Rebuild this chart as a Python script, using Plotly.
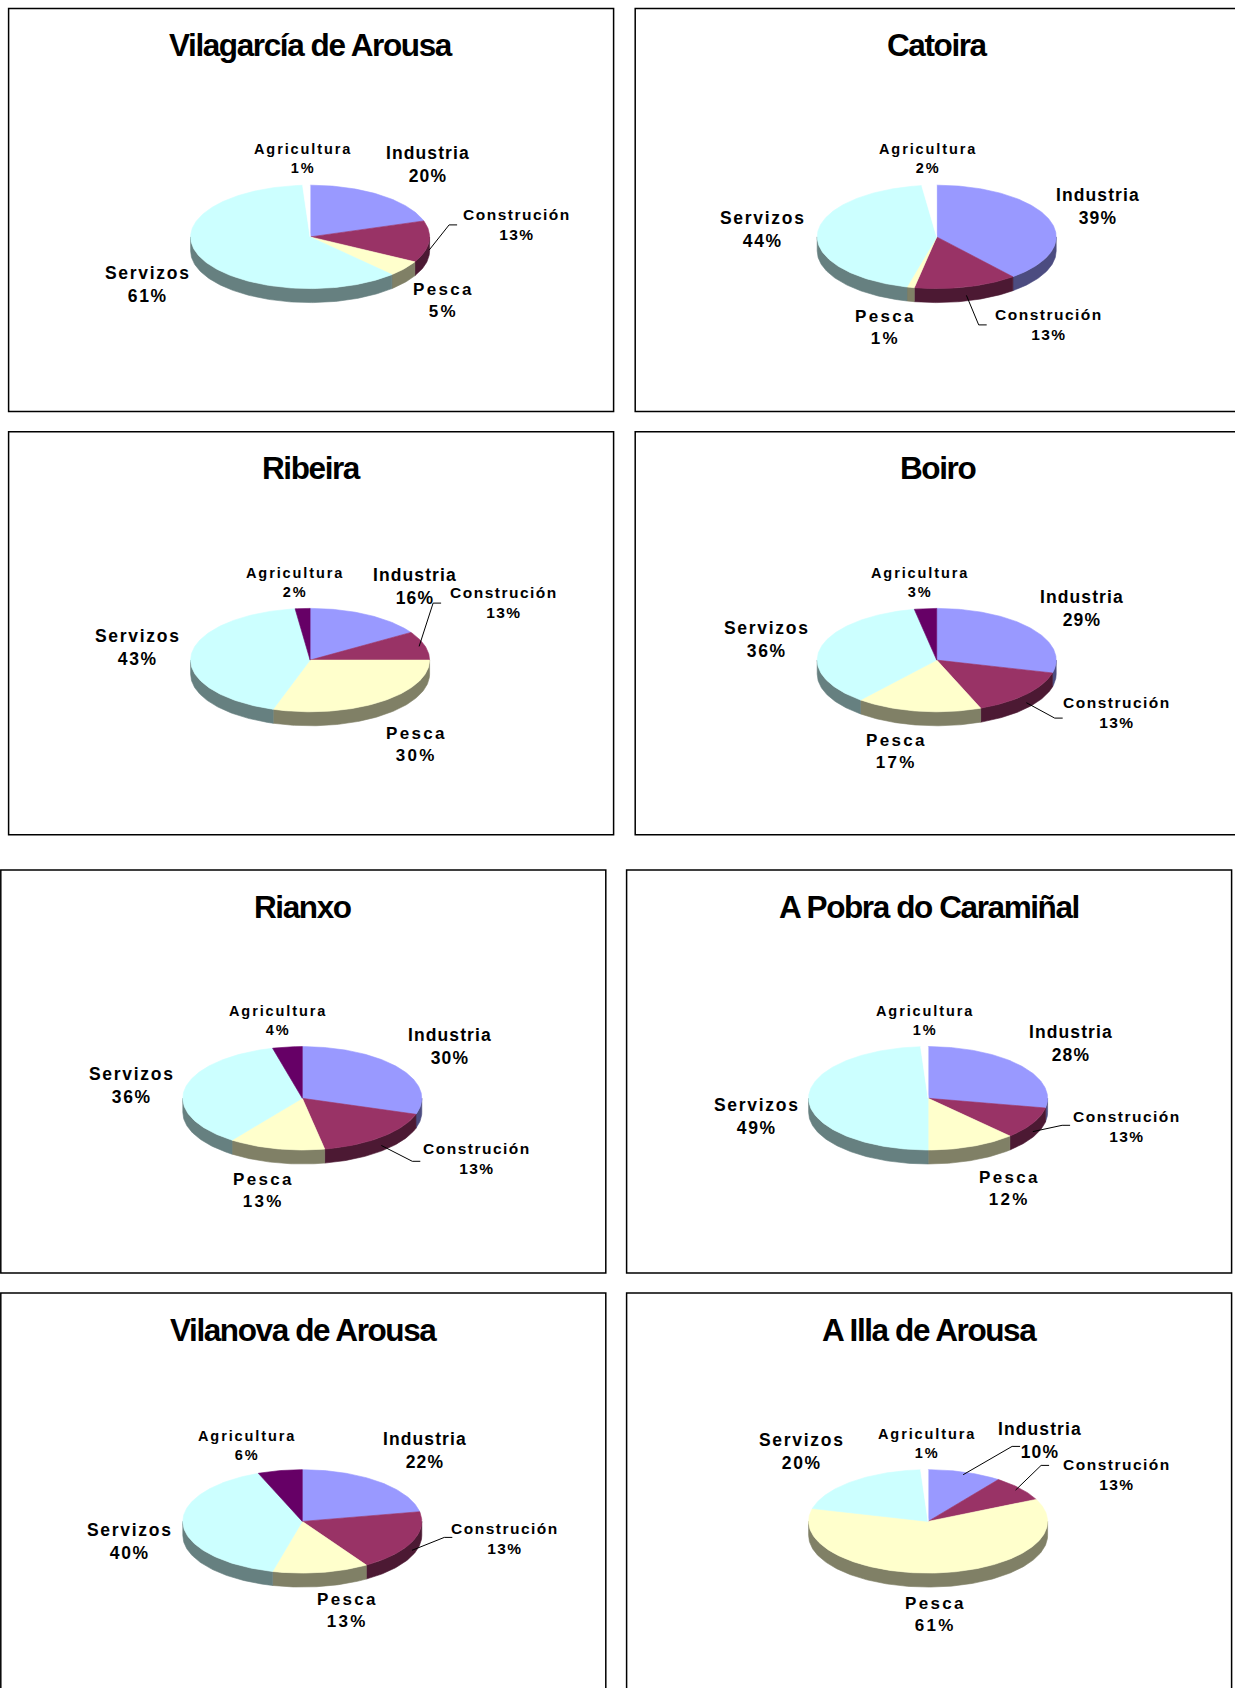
import numpy as np
import plotly.graph_objects as go

# ---------------- DATA ----------------
municipios = ["Vilagarcía de Arousa", "Catoira", "Ribeira", "Boiro",
              "Rianxo", "A Pobra do Caramiñal", "Vilanova de Arousa", "A Illa de Arousa"]
# slice order, clockwise from 12 o'clock
sectores = ["Industria", "Construción", "Pesca", "Servizos", "Agricultura"]

# slice sizes (%) as drawn
industria   = [20, 39, 16, 29, 30, 28, 22, 10]
construcion = [13, 14,  9, 15, 17, 10, 19,  8]
pesca       = [ 5,  1, 30, 17, 13, 12, 13, 61]
servizos    = [61, 44, 43, 36, 36, 49, 40, 20]
agricultura = [ 1,  2,  2,  3,  4,  1,  6,  1]

# percentages printed in the labels
industria_lbl   = [20, 39, 16, 29, 30, 28, 22, 10]
construcion_lbl = [13, 13, 13, 13, 13, 13, 13, 13]
pesca_lbl       = [ 5,  1, 30, 17, 13, 12, 13, 61]
servizos_lbl    = [61, 44, 43, 36, 36, 49, 40, 20]
agricultura_lbl = [ 1,  2,  2,  3,  4,  1,  6,  1]

# ---------------- LAYOUT / STYLE ----------------
W, H = 1235, 1688
BOX_W, BOX_H = 605, 403
BOX_ORIGINS = [(8.6, 8.6), (635.2, 8.6), (8.6, 431.8), (635.2, 431.8),
               (0.8, 870.0), (626.6, 870.0), (0.8, 1293.1), (626.6, 1293.1)]
PIE_DX, PIE_DY = 301.5, 228.3
TITLE_DY = 36.6
RX, RY, DEPTH = 119.5, 51.7, 14.0

TOP_COL = {"Industria": "#9999FF", "Construción": "#993366", "Pesca": "#FFFFCC",
           "Servizos": "#CCFFFF", "Agricultura": "#660066"}
SIDE_COL = {"Industria": "#4C4C80", "Construción": "#4C1933", "Pesca": "#808066",
            "Servizos": "#668080", "Agricultura": "#330033"}
AGRI_WHITE = [True, True, False, False, False, True, False, True]

LBL_SIZE = {"Agricultura": 14.5, "Industria": 17.5, "Construción": 15.5, "Pesca": 17, "Servizos": 17.5}
LBL_LS = {"Agricultura": 1.9, "Industria": 1.1, "Construción": 1.5, "Pesca": 2.3, "Servizos": 1.7}
TITLE_SIZE, TITLE_LS = 31.5, -1.4

LABEL_OFF = [
    {"Agricultura": (-7.5, -78.6), "Industria": (117.4, -72.1), "Construción": (206.7, -12.9),
     "Pesca": (133.5, 63.5), "Servizos": (-162.6, 47.4)},
    {"Agricultura": (-8.6, -78.6), "Industria": (161.5, -30.1), "Construción": (112.0, 87.2),
     "Pesca": (-51.7, 90.4), "Servizos": (-173.3, -7.5)},
    {"Agricultura": (-15.1, -77.5), "Industria": (104.4, -73.2), "Construción": (193.8, -58.1),
     "Pesca": (106.6, 84.0), "Servizos": (-172.3, -12.9)},
    {"Agricultura": (-17.2, -77.5), "Industria": (145.4, -51.7), "Construción": (179.8, 52.8),
     "Pesca": (-39.8, 91.5), "Servizos": (-170.1, -20.5)},
    {"Agricultura": (-24.8, -77.5), "Industria": (147.5, -51.7), "Construción": (174.4, 60.3),
     "Pesca": (-38.8, 92.6), "Servizos": (-170.1, -12.9)},
    {"Agricultura": (-3.2, -77.5), "Industria": (143.2, -54.9), "Construción": (199.2, 28.0),
     "Pesca": (81.8, 90.4), "Servizos": (-171.2, 18.3)},
    {"Agricultura": (-54.9, -76.4), "Industria": (122.7, -71.1), "Construción": (202.4, 17.2),
     "Pesca": (45.2, 89.4), "Servizos": (-172.3, 20.5)},
    {"Agricultura": (-1.1, -77.5), "Industria": (112.0, -80.8), "Construción": (188.4, -47.4),
     "Pesca": (7.5, 92.6), "Servizos": (-126.0, -70.0)},
]
LEADER_END = [
    {"Construción": (147, -12)},
    {"Construción": (50, 88)},
    {"Construción": (131, -57)},
    {"Construción": (126, 58)},
    {"Construción": (118, 63)},
    {"Construción": (142, 27)},
    {"Construción": (150, 16)},
    {"Industria": (92, -75), "Construción": (121, -56)},
]

FONT = "Liberation Sans, Arial, Helvetica, sans-serif"

series = {"Industria": industria, "Construción": construcion, "Pesca": pesca,
          "Servizos": servizos, "Agricultura": agricultura}
labels = {"Industria": industria_lbl, "Construción": construcion_lbl, "Pesca": pesca_lbl,
          "Servizos": servizos_lbl, "Agricultura": agricultura_lbl}

fig = go.Figure()
shapes, annotations = [], []


def poly(xs, ys, color):
    fig.add_trace(go.Scatter(x=xs, y=ys, mode="lines", fill="toself", fillcolor=color,
                             line=dict(color=color, width=0.6), hoverinfo="skip",
                             showlegend=False))


for p, name in enumerate(municipios):
    bx, by = BOX_ORIGINS[p]
    cx, cy = bx + PIE_DX, by + PIE_DY
    shapes.append(dict(type="rect", xref="x", yref="y", x0=bx, y0=by,
                       x1=bx + BOX_W, y1=by + BOX_H,
                       line=dict(color="black", width=1.5), layer="below"))
    annotations.append(dict(x=bx + BOX_W / 2, y=by + TITLE_DY, xref="x", yref="y",
                            text=f"<span style='letter-spacing:{TITLE_LS}px'>{name}</span>",
                            showarrow=False, xanchor="center", yanchor="middle",
                            font=dict(family=FONT, size=TITLE_SIZE, color="black",
                                      weight="bold")))

    vals = np.array([series[s][p] for s in sectores], dtype=float)
    edges = np.concatenate([[0.0], np.cumsum(vals / vals.sum())]) * 2 * np.pi

    def colors(s):
        if s == "Agricultura" and AGRI_WHITE[p]:
            return "#FFFFFF", "#808080"
        return TOP_COL[s], SIDE_COL[s]

    # side walls (front half only)
    for i, s in enumerate(sectores):
        a0, a1 = edges[i], edges[i + 1]
        lo, hi = max(a0, np.pi / 2), min(a1, 3 * np.pi / 2)
        if hi > lo:
            t = np.linspace(lo, hi, max(3, int((hi - lo) * 60)))
            xs = cx + RX * np.sin(t)
            ys = cy - RY * np.cos(t)
            poly(np.concatenate([xs, xs[::-1], xs[:1]]),
                 np.concatenate([ys, ys[::-1] + DEPTH, ys[:1]]), colors(s)[1])
    # top faces
    for i, s in enumerate(sectores):
        a0, a1 = edges[i], edges[i + 1]
        t = np.linspace(a0, a1, max(3, int((a1 - a0) * 60)))
        xs = np.concatenate([[cx], cx + RX * np.sin(t), [cx]])
        ys = np.concatenate([[cy], cy - RY * np.cos(t), [cy]])
        poly(xs, ys, colors(s)[0])

    # labels
    for i, s in enumerate(sectores):
        dx, dy = LABEL_OFF[p][s]
        ls = LBL_LS[s]
        txt = (f"<span style='letter-spacing:{ls}px'>{s}</span><br>"
               f"<span style='letter-spacing:{ls}px'>{labels[s][p]}%</span>")
        annotations.append(dict(x=cx + dx, y=cy + dy, xref="x", yref="y", text=txt,
                                showarrow=False, xanchor="center", yanchor="middle",
                                font=dict(family=FONT, size=LBL_SIZE[s], color="black",
                                          weight="bold")))
    # leader lines
    for s, (ex, ey) in LEADER_END[p].items():
        i = sectores.index(s)
        mid = 0.5 * (edges[i] + edges[i + 1])
        if np.cos(mid) < 0:
            sx, sy = cx + RX * np.sin(mid), cy - RY * np.cos(mid) + DEPTH * 0.6
        else:
            sx, sy = cx + 0.95 * RX * np.sin(mid), cy - 0.95 * RY * np.cos(mid)
        fig.add_trace(go.Scatter(x=[sx, cx + ex - 8, cx + ex], y=[sy, cy + ey, cy + ey],
                                 mode="lines", line=dict(color="black", width=1),
                                 hoverinfo="skip", showlegend=False))

fig.update_layout(
    width=W, height=H, autosize=False,
    margin=dict(l=0, r=0, t=0, b=0),
    paper_bgcolor="white", plot_bgcolor="white",
    xaxis=dict(range=[0, W], visible=False, fixedrange=True, domain=[0, 1]),
    yaxis=dict(range=[H, 0], visible=False, fixedrange=True, domain=[0, 1]),
    shapes=shapes, annotations=annotations, showlegend=False,
)
fig.write_html("out.html", config={"displayModeBar": False},
               post_script="document.body.style.margin='0px';")
